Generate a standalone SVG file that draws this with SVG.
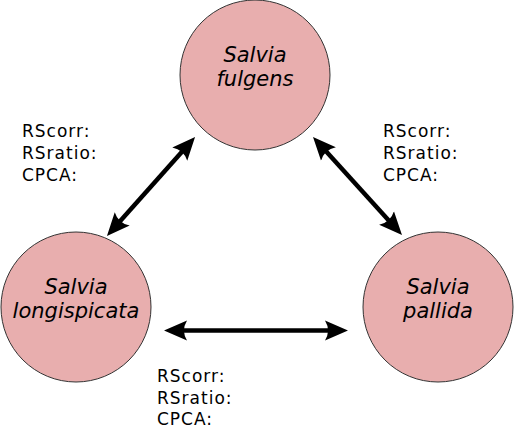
<svg xmlns="http://www.w3.org/2000/svg" width="514" height="429" viewBox="0 0 514 429">
<style>
.node{fill:#e8aeae;stroke:#333;stroke-width:1}
.nt{font-family:"DejaVu Sans",sans-serif;font-style:oblique;font-size:21px;text-anchor:middle;fill:#000}
.lb{font-family:"DejaVu Sans",sans-serif;font-size:17px;letter-spacing:1px;fill:#000}
.conn{stroke:#000;stroke-width:4.5;fill:none;marker-start:url(#ah);marker-end:url(#ah)}
</style>
<defs>
<marker id="ah" markerUnits="userSpaceOnUse" viewBox="0 -11 25 22" refX="5" refY="0" markerWidth="25" markerHeight="22" orient="auto-start-reverse">
<path d="M23,0 L0,-10 Q6,0 0,10 Z" fill="#000"/>
</marker>
</defs>
<rect width="514" height="429" fill="#fff"/>
<g id="connectors">
<line class="conn" x1="118.9" y1="222.6" x2="183.1" y2="150.4"/>
<line class="conn" x1="325.1" y1="150.3" x2="389.9" y2="221.7"/>
<line class="conn" x1="182" y1="330.5" x2="330" y2="330.5"/>
</g>
<g id="fulgens">
<circle class="node" cx="255" cy="75" r="75"/>
<text class="nt" x="255" y="62">Salvia</text>
<text class="nt" x="255" y="86">fulgens</text>
</g>
<g id="longispicata">
<circle class="node" cx="76" cy="307" r="75"/>
<text class="nt" x="76" y="294">Salvia</text>
<text class="nt" x="76" y="318">longispicata</text>
</g>
<g id="pallida">
<circle class="node" cx="438" cy="307" r="75"/>
<text class="nt" x="438" y="294">Salvia</text>
<text class="nt" x="438" y="318">pallida</text>
</g>
<g id="label-left">
<text class="lb" x="22" y="137">RScorr:</text>
<text class="lb" x="22" y="159">RSratio:</text>
<text class="lb" x="22" y="181">CPCA:</text>
</g>
<g id="label-right">
<text class="lb" x="383" y="137">RScorr:</text>
<text class="lb" x="383" y="159">RSratio:</text>
<text class="lb" x="383" y="181">CPCA:</text>
</g>
<g id="label-bottom">
<text class="lb" x="157" y="382">RScorr:</text>
<text class="lb" x="157" y="404">RSratio:</text>
<text class="lb" x="157" y="425">CPCA:</text>
</g>
</svg>
